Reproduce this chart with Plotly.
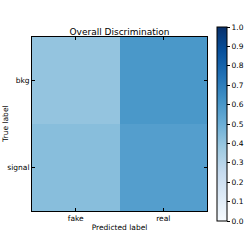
import plotly.graph_objects as go

pred_labels = ["fake", "real"]
true_labels = ["bkg", "signal"]
values = [[0.40, 0.60],
          [0.43, 0.57]]
cbar_ticks = [0.0, 0.1, 0.2, 0.3, 0.4, 0.5, 0.6, 0.7, 0.8, 0.9, 1.0]

blues = ["#f7fbff", "#deebf7", "#c6dbef", "#9ecae1", "#6baed6",
         "#4292c6", "#2171b5", "#08519c", "#08306b"]
colorscale = [[i / 8, c] for i, c in enumerate(blues)]

font = "DejaVu Sans"

fig = go.Figure(go.Heatmap(
    z=values, x=pred_labels, y=true_labels,
    zmin=0, zmax=1, colorscale=colorscale,
    xgap=0, ygap=0, hoverinfo="skip",
    colorbar=dict(
        thickness=10, thicknessmode="pixels",
        len=194, lenmode="pixels",
        x=1.055, xanchor="left", y=0.5, yanchor="middle",
        outlinecolor="black", outlinewidth=1,
        tickvals=cbar_ticks, ticktext=[f"{t:.1f}" for t in cbar_ticks],
        ticks="outside", ticklen=3, tickcolor="black",
        tickfont=dict(family=font, size=7.5, color="black"),
        xpad=0, ypad=0,
    ),
))

fig.update_layout(
    width=249, height=249,
    margin=dict(l=32, r=42, t=37, b=38, autoexpand=False),
    paper_bgcolor="white", plot_bgcolor="white",
    title=dict(text="Overall Discrimination", x=0.5, xref="paper", xanchor="center",
               y=1, yref="paper", yanchor="bottom", pad=dict(b=2),
               font=dict(family=font, size=9, color="black")),
    font=dict(family=font, color="black"),
)
fig.update_xaxes(
    showline=True, linecolor="black", linewidth=1, mirror="ticks",
    ticks="inside", ticklen=3, tickcolor="black", automargin=False,
    tickfont=dict(family=font, size=7.5, color="black"),
    title=dict(text="Predicted label", font=dict(family=font, size=7.5, color="black"), standoff=2),
    showgrid=False, zeroline=False,
)
fig.update_yaxes(
    showline=True, linecolor="black", linewidth=1, mirror="ticks",
    ticks="inside", ticklen=3, tickcolor="black", automargin=False,
    tickfont=dict(family=font, size=7.5, color="black"),
    autorange="reversed", showgrid=False, zeroline=False,
)
fig.add_annotation(text="True label", textangle=-90, x=-0.155, y=0.5,
                   xref="paper", yref="paper", xanchor="center", yanchor="middle",
                   showarrow=False, font=dict(family=font, size=7.5, color="black"))

fig.write_html("out.html", config={"displayModeBar": False},
               post_script="document.body.style.margin='0';")
